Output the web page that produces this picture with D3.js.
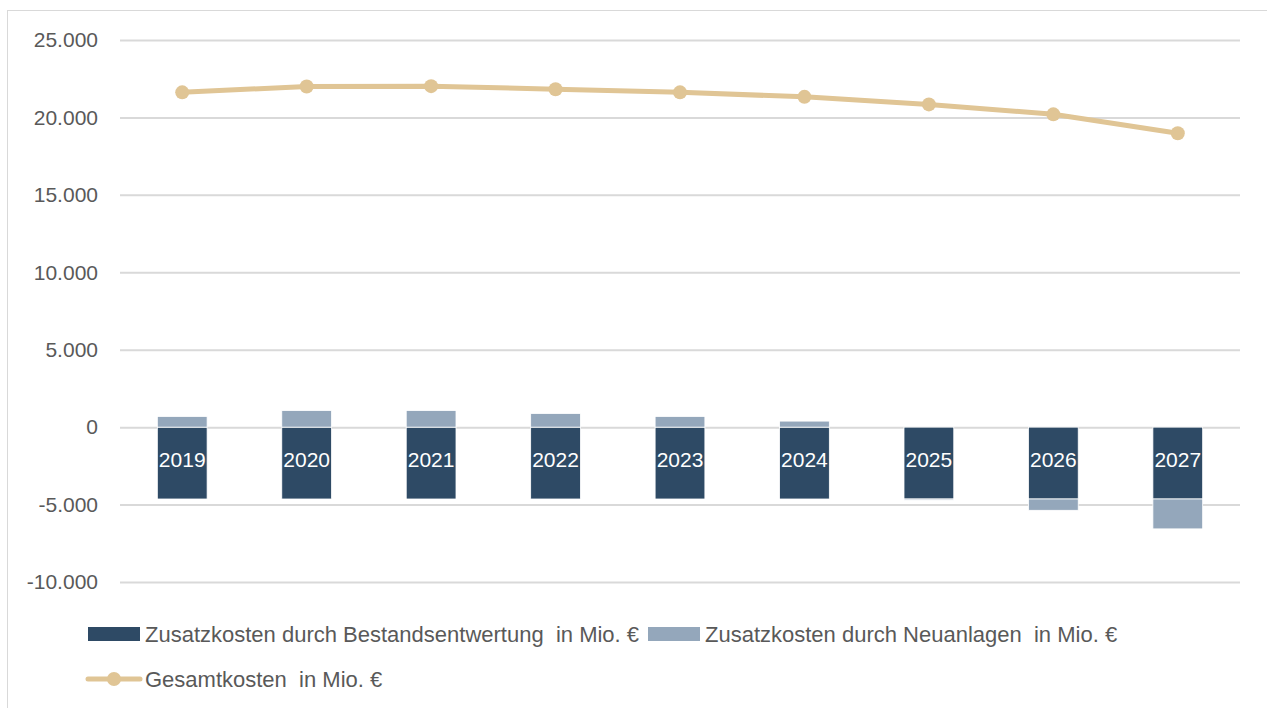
<!DOCTYPE html>
<html>
<head>
<meta charset="utf-8">
<script src="https://cdn.jsdelivr.net/npm/d3@7"></script>
<style>
  body { margin: 0; background: #fff; }
  svg text { font-family: "Liberation Sans", Arial, sans-serif; white-space: pre; }
</style>
</head>
<body>
<div class="canvas"></div>
<script>
// chart data
const years = ['2019', '2020', '2021', '2022', '2023', '2024', '2025', '2026', '2027'];
const bestand = [-4640, -4640, -4640, -4640, -4640, -4640, -4640, -4640, -4640];
const neuanlagen = [690, 1070, 1070, 880, 690, 390, -70, -730, -1930];
const gesamt = [21620, 22000, 22020, 21820, 21620, 21330, 20840, 20200, 18980];
const yTicks = [-10000, -5000, 0, 5000, 10000, 15000, 20000, 25000];
const legendLabels = [
  'Zusatzkosten durch Bestandsentwertung  in Mio. €',
  'Zusatzkosten durch Neuanlagen  in Mio. €',
  'Gesamtkosten  in Mio. €'
];

const colDark = '#2e4a65';
const colLight = '#94a7bb';
const colLine = '#e0c595';
const colGrid = '#d9d9d9';
const colText = '#595959';

const width = 1267, height = 708;
const margin = { top: 40, right: 27, bottom: 126, left: 120 };
const graphWidth = width - margin.left - margin.right;
const graphHeight = height - margin.top - margin.bottom;

const svg = d3.select('.canvas')
  .append('svg')
  .attr('width', width)
  .attr('height', height);

// chart border
svg.append('rect')
  .attr('x', 7.5).attr('y', 10.5)
  .attr('width', width + 20).attr('height', height + 20)
  .attr('fill', 'none')
  .attr('stroke', colGrid);

const graph = svg.append('g')
  .attr('transform', `translate(${margin.left}, ${margin.top})`);

const y = d3.scaleLinear()
  .domain([-10000, 25000])
  .range([graphHeight, 0]);

const x = d3.scaleBand()
  .domain(years)
  .range([0, graphWidth])
  .paddingInner(0.6)
  .paddingOuter(0.3);

// German number format with hyphen minus
const fmt = d => (d < 0 ? '-' : '') + d3.format(',')(Math.abs(d)).replace(/,/g, '.');

// y axis with gridlines
const yAxis = d3.axisLeft(y)
  .tickValues(yTicks)
  .tickSize(-graphWidth)
  .tickPadding(22)
  .tickFormat(fmt);

const yAxisGroup = graph.append('g').call(yAxis);
yAxisGroup.select('.domain').remove();
yAxisGroup.selectAll('line').attr('stroke', colGrid).attr('stroke-width', 2);
yAxisGroup.selectAll('text')
  .attr('fill', colText)
  .attr('font-size', 21);

// stacked bars: positive and negative stack separately
const bars = years.map((yr, i) => {
  const b = bestand[i], n = neuanlagen[i];
  const segs = [];
  segs.push({ yr, col: colDark, y0: 0, y1: b });
  if (n >= 0) segs.push({ yr, col: colLight, y0: 0, y1: n });
  else segs.push({ yr, col: colLight, y0: b, y1: b + n });
  return segs;
}).flat();

graph.selectAll('rect.bar')
  .data(bars)
  .enter()
  .append('rect')
  .attr('class', 'bar')
  .attr('x', d => x(d.yr))
  .attr('width', x.bandwidth())
  .attr('y', d => y(Math.max(d.y0, d.y1)))
  .attr('height', d => Math.abs(y(d.y0) - y(d.y1)))
  .attr('fill', d => d.col)
  .attr('stroke', '#fff')
  .attr('stroke-width', 0.8);

// year labels inside the dark bars
graph.selectAll('text.yr')
  .data(years)
  .enter()
  .append('text')
  .attr('class', 'yr')
  .attr('x', d => x(d) + x.bandwidth() / 2)
  .attr('y', (d, i) => y(bestand[i] / 2) - 4)
  .attr('text-anchor', 'middle')
  .attr('dominant-baseline', 'central')
  .attr('fill', '#fff')
  .attr('font-size', 21)
  .text(d => d);

// total cost line
const line = d3.line()
  .x((d, i) => x(years[i]) + x.bandwidth() / 2)
  .y(d => y(d));

graph.append('path')
  .datum(gesamt)
  .attr('d', line)
  .attr('fill', 'none')
  .attr('stroke', colLine)
  .attr('stroke-width', 5)
  .attr('stroke-linejoin', 'round');

graph.selectAll('circle.pt')
  .data(gesamt)
  .enter()
  .append('circle')
  .attr('class', 'pt')
  .attr('cx', (d, i) => x(years[i]) + x.bandwidth() / 2)
  .attr('cy', d => y(d))
  .attr('r', 7)
  .attr('fill', colLine);

// legend
const legend = svg.append('g');
const row1 = 634, row2 = 679;

legend.append('rect')
  .attr('x', 88).attr('y', row1 - 7)
  .attr('width', 52).attr('height', 14)
  .attr('fill', colDark);
legend.append('text')
  .attr('x', 145).attr('y', row1)
  .attr('dominant-baseline', 'central')
  .attr('fill', colText).attr('font-size', 22)
  .text(legendLabels[0]);

legend.append('rect')
  .attr('x', 648).attr('y', row1 - 7)
  .attr('width', 52).attr('height', 14)
  .attr('fill', colLight);
legend.append('text')
  .attr('x', 705).attr('y', row1)
  .attr('dominant-baseline', 'central')
  .attr('fill', colText).attr('font-size', 22)
  .text(legendLabels[1]);

legend.append('line')
  .attr('x1', 88).attr('x2', 140)
  .attr('y1', row2).attr('y2', row2)
  .attr('stroke', colLine).attr('stroke-width', 5)
  .attr('stroke-linecap', 'round');
legend.append('circle')
  .attr('cx', 114).attr('cy', row2).attr('r', 7)
  .attr('fill', colLine);
legend.append('text')
  .attr('x', 145).attr('y', row2)
  .attr('dominant-baseline', 'central')
  .attr('fill', colText).attr('font-size', 22)
  .text(legendLabels[2]);
</script>
</body>
</html>
